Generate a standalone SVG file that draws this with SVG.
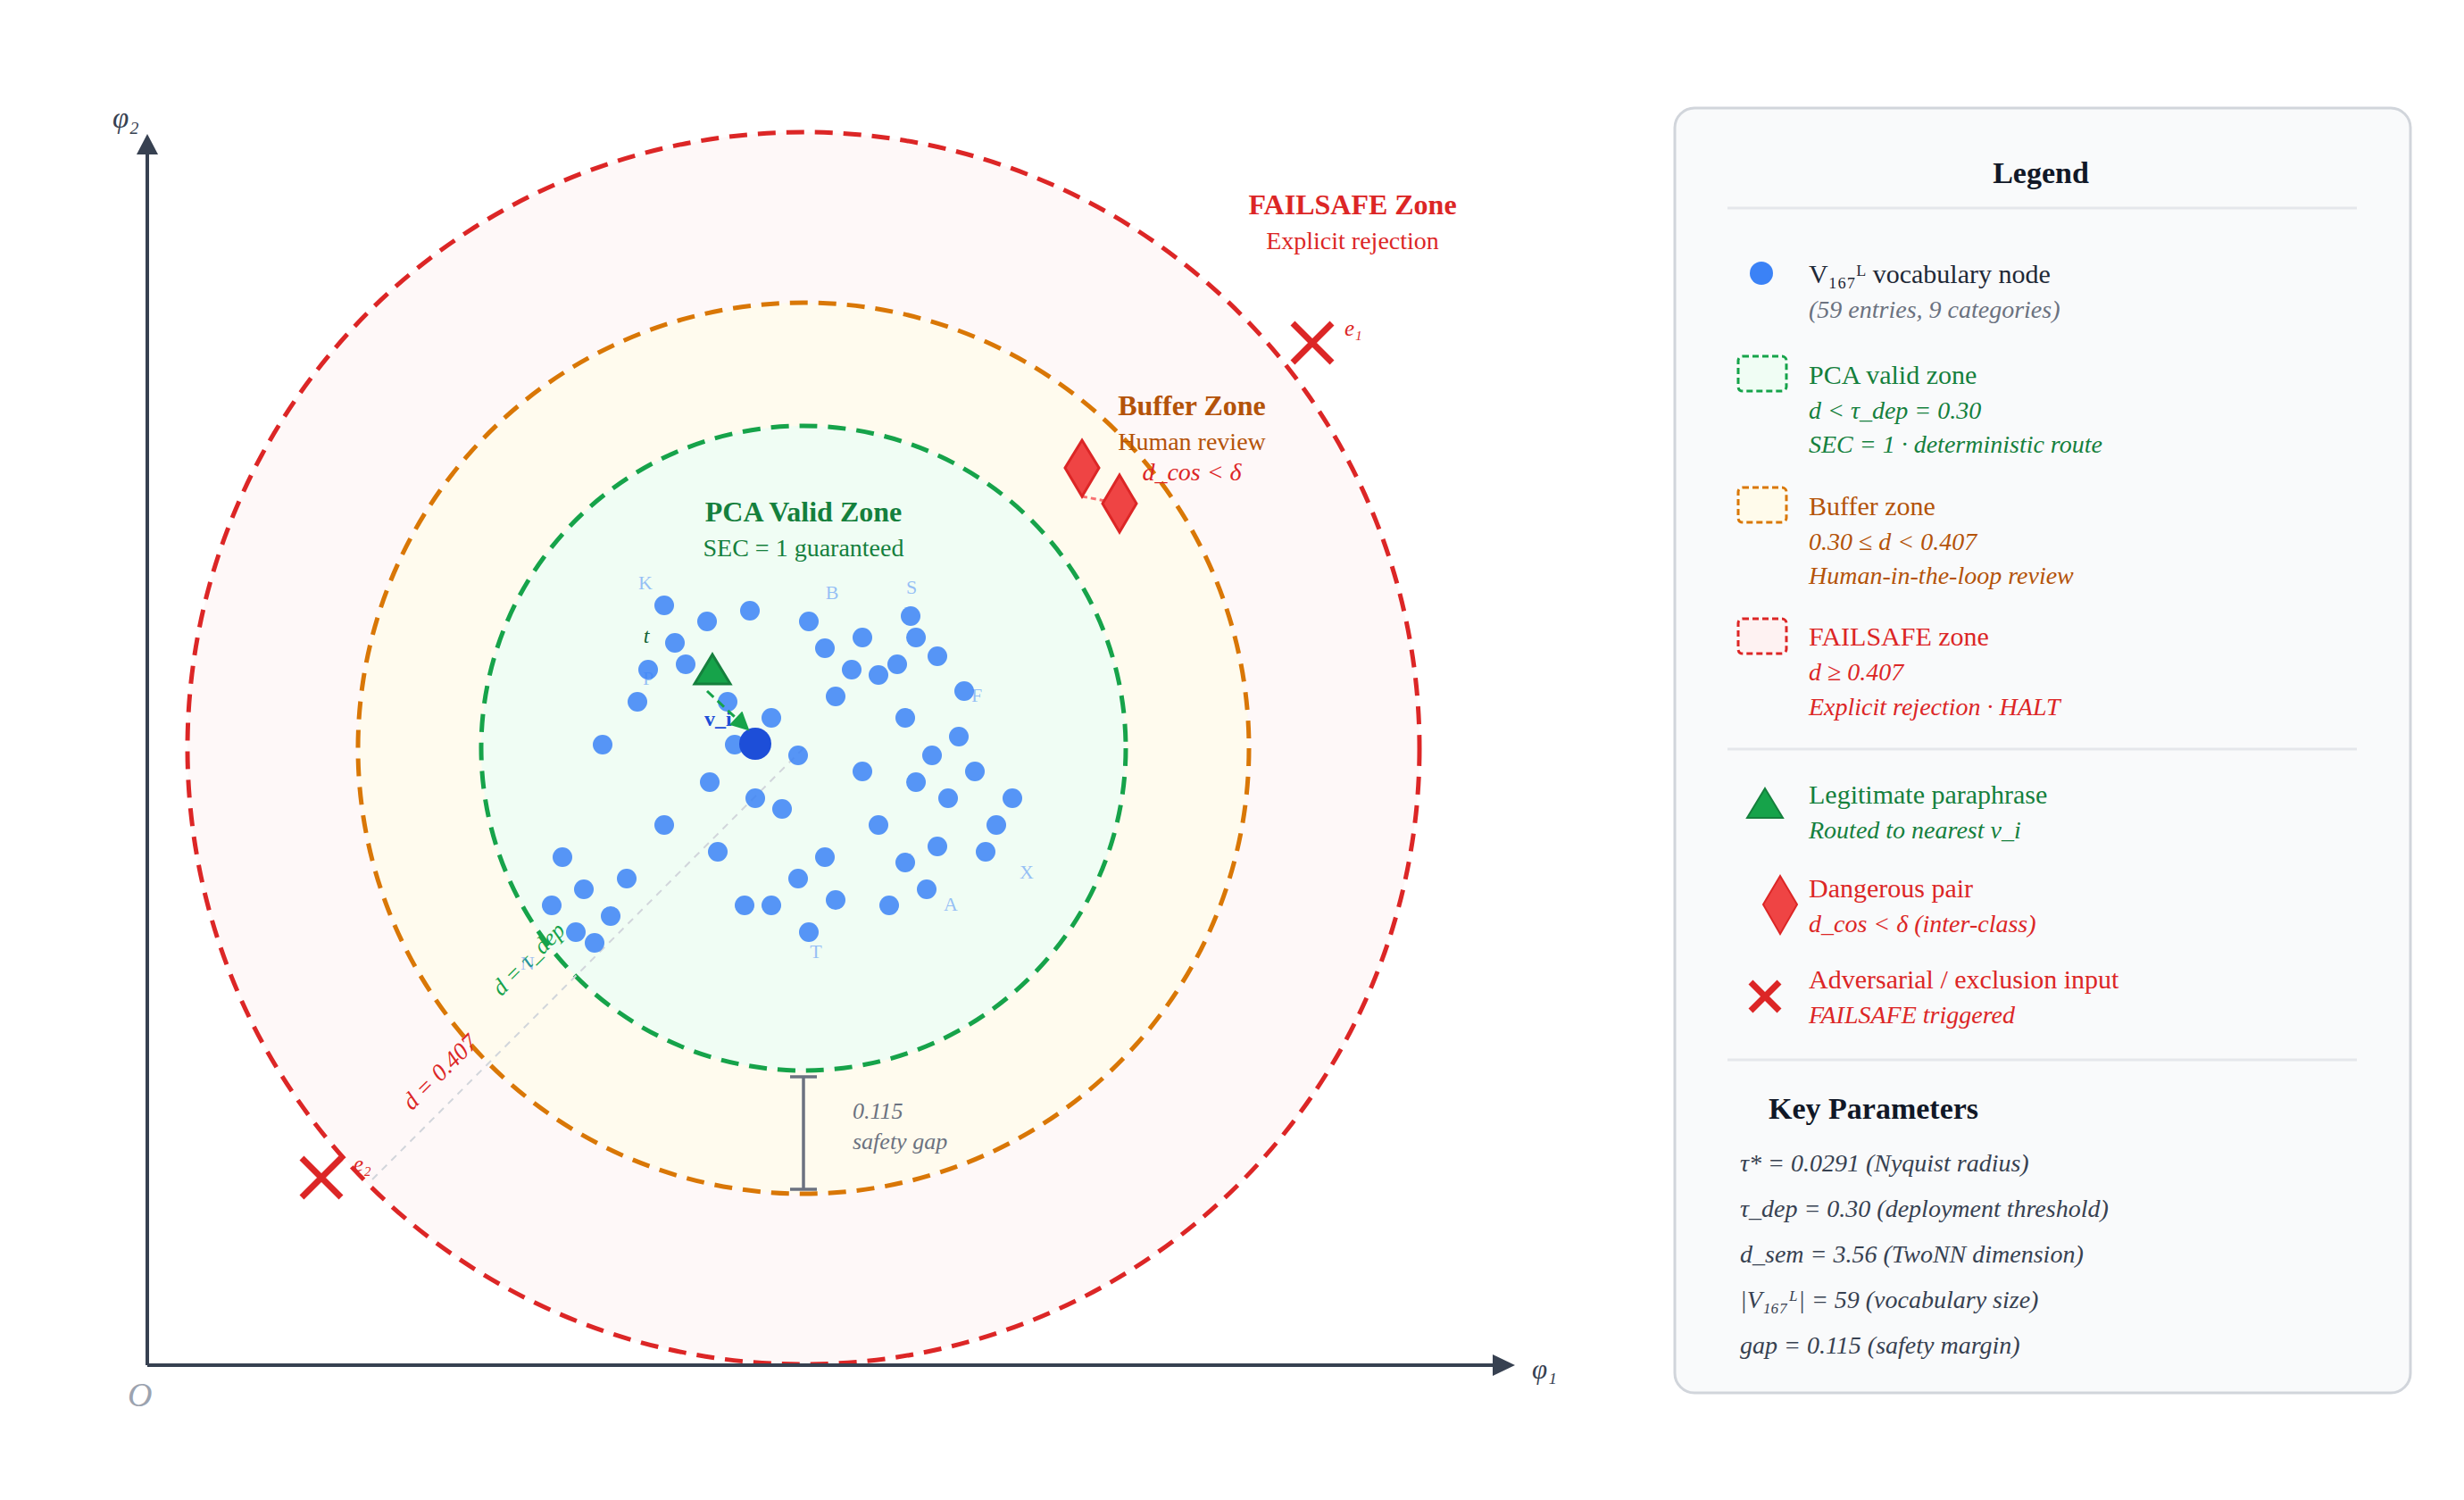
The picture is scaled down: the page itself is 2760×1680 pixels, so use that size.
<svg xmlns="http://www.w3.org/2000/svg" width="2760" height="1680" viewBox="0 0 2760 1680">
<defs>
<style>
text{font-family:"Liberation Serif","Times New Roman",serif}
.zone{stroke-width:5;stroke-dasharray:20 12}
.dot{fill:#3b82f6;fill-opacity:0.85}
.cat{fill:#3b82f6;fill-opacity:0.5;font-size:22px;text-anchor:middle}
.xm{stroke:#dc2626;stroke-width:7;fill:none}
.lbl{font-size:30px}
.sub{font-size:28px;font-style:italic}
.par{font-size:28px;font-style:italic;fill:#374151}
.ttl{font-size:34px;font-weight:bold;fill:#111827}
.g{fill:#15803d}.o{fill:#b45309}.r{fill:#dc2626}
.sep{stroke:#e5e7eb;stroke-width:3}
</style>
<marker id="ah" viewBox="0 0 10 10" refX="9" refY="5" markerWidth="9" markerHeight="7" markerUnits="strokeWidth" orient="auto">
<path d="M0,0 L10,5 L0,10 z" fill="#16a34a"/>
</marker>
</defs>
<rect width="2760" height="1680" fill="#ffffff"/>

<g id="zones">
<circle cx="900" cy="838" r="690" fill="#fef2f2" fill-opacity="0.55" stroke="#dc2626" class="zone"/>
<circle cx="900" cy="838" r="499" fill="#fffbeb" fill-opacity="0.8" stroke="#d97706" class="zone"/>
<circle cx="900" cy="838" r="361" fill="#f0fdf4" stroke="#16a34a" class="zone"/>
</g>

<g id="axes" stroke="#374151" stroke-width="4" fill="#374151">
<line x1="165" y1="1529" x2="165" y2="170"/>
<line x1="165" y1="1529" x2="1675" y2="1529"/>
<path d="M165,150 L177,173 L153,173 z" stroke="none"/>
<path d="M1697,1529 L1672,1517 L1672,1541 z" stroke="none"/>
</g>
<text x="126" y="143" font-size="33" font-style="italic" fill="#374151">φ₂</text>
<text x="1716" y="1544" font-size="31" font-style="italic" fill="#374151">φ₁</text>
<text x="143" y="1575" font-size="38" font-style="italic" fill="#9ca3af">O</text>

<g id="connectors">
<line x1="900" y1="838" x2="417" y2="1321" stroke="#d1d5db" stroke-width="2" stroke-dasharray="8 7"/>
<line x1="1212" y1="556" x2="1238" y2="561" stroke="#f87171" stroke-width="3" stroke-dasharray="6 4"/>
</g>

<g id="gap">
<line x1="900" y1="1206" x2="900" y2="1332" stroke="#6b7280" stroke-width="3.5"/>
<line x1="885" y1="1206" x2="915" y2="1206" stroke="#6b7280" stroke-width="3.5"/>
<line x1="885" y1="1332" x2="915" y2="1332" stroke="#6b7280" stroke-width="3.5"/>
<text x="955" y="1253" font-size="26" font-style="italic" fill="#6b7280">0.115</text>
<text x="955" y="1287" font-size="26" font-style="italic" fill="#6b7280">safety gap</text>
</g>

<text transform="translate(598,1080) rotate(-45)" text-anchor="middle" font-size="26" font-style="italic" fill="#16a34a">d = τ_dep</text>
<text transform="translate(499,1207) rotate(-45)" text-anchor="middle" font-size="27" font-style="italic" fill="#dc2626">d = 0.407</text>

<g id="zone-titles">
<text x="900" y="584" text-anchor="middle" font-size="32" font-weight="bold" class="g">PCA Valid Zone</text>
<text x="900" y="623" text-anchor="middle" font-size="28" class="g">SEC = 1 guaranteed</text>
<text x="1335" y="465" text-anchor="middle" font-size="32" font-weight="bold" class="o">Buffer Zone</text>
<text x="1335" y="504" text-anchor="middle" font-size="28" class="o">Human review</text>
<text x="1335" y="538" text-anchor="middle" font-size="28" font-style="italic" class="r">d_cos &lt; δ</text>
<text x="1515" y="240" text-anchor="middle" font-size="32" font-weight="bold" class="r">FAILSAFE Zone</text>
<text x="1515" y="279" text-anchor="middle" font-size="28" class="r">Explicit rejection</text>
</g>

<g id="category-labels">
<text class="cat" x="723" y="660">K</text>
<text class="cat" x="932" y="671">B</text>
<text class="cat" x="1021" y="665">S</text>
<text class="cat" x="726" y="767">P</text>
<text class="cat" x="1094" y="786">F</text>
<text class="cat" x="1150" y="984">X</text>
<text class="cat" x="1065" y="1020">A</text>
<text class="cat" x="914" y="1073">T</text>
<text class="cat" x="591" y="1086">N</text>
</g>

<g id="vocabulary-nodes">
<circle class="dot" cx="744" cy="678" r="11"/>
<circle class="dot" cx="792" cy="696" r="11"/>
<circle class="dot" cx="840" cy="684" r="11"/>
<circle class="dot" cx="756" cy="720" r="11"/>
<circle class="dot" cx="768" cy="744" r="11"/>
<circle class="dot" cx="726" cy="750" r="11"/>
<circle class="dot" cx="714" cy="786" r="11"/>
<circle class="dot" cx="675" cy="834" r="11"/>
<circle class="dot" cx="815" cy="786" r="11"/>
<circle class="dot" cx="864" cy="804" r="11"/>
<circle class="dot" cx="823" cy="834" r="11"/>
<circle class="dot" cx="894" cy="846" r="11"/>
<circle class="dot" cx="795" cy="876" r="11"/>
<circle class="dot" cx="846" cy="894" r="11"/>
<circle class="dot" cx="876" cy="906" r="11"/>
<circle class="dot" cx="744" cy="924" r="11"/>
<circle class="dot" cx="804" cy="954" r="11"/>
<circle class="dot" cx="630" cy="960" r="11"/>
<circle class="dot" cx="654" cy="996" r="11"/>
<circle class="dot" cx="702" cy="984" r="11"/>
<circle class="dot" cx="618" cy="1014" r="11"/>
<circle class="dot" cx="684" cy="1026" r="11"/>
<circle class="dot" cx="645" cy="1044" r="11"/>
<circle class="dot" cx="666" cy="1056" r="11"/>
<circle class="dot" cx="834" cy="1014" r="11"/>
<circle class="dot" cx="864" cy="1014" r="11"/>
<circle class="dot" cx="894" cy="984" r="11"/>
<circle class="dot" cx="924" cy="960" r="11"/>
<circle class="dot" cx="936" cy="1008" r="11"/>
<circle class="dot" cx="906" cy="1044" r="11"/>
<circle class="dot" cx="996" cy="1014" r="11"/>
<circle class="dot" cx="1014" cy="966" r="11"/>
<circle class="dot" cx="1050" cy="948" r="11"/>
<circle class="dot" cx="1038" cy="996" r="11"/>
<circle class="dot" cx="984" cy="924" r="11"/>
<circle class="dot" cx="1104" cy="954" r="11"/>
<circle class="dot" cx="1116" cy="924" r="11"/>
<circle class="dot" cx="1134" cy="894" r="11"/>
<circle class="dot" cx="1062" cy="894" r="11"/>
<circle class="dot" cx="1026" cy="876" r="11"/>
<circle class="dot" cx="1092" cy="864" r="11"/>
<circle class="dot" cx="1044" cy="846" r="11"/>
<circle class="dot" cx="966" cy="864" r="11"/>
<circle class="dot" cx="1074" cy="825" r="11"/>
<circle class="dot" cx="1014" cy="804" r="11"/>
<circle class="dot" cx="1080" cy="774" r="11"/>
<circle class="dot" cx="936" cy="780" r="11"/>
<circle class="dot" cx="906" cy="696" r="11"/>
<circle class="dot" cx="924" cy="726" r="11"/>
<circle class="dot" cx="966" cy="714" r="11"/>
<circle class="dot" cx="954" cy="750" r="11"/>
<circle class="dot" cx="984" cy="756" r="11"/>
<circle class="dot" cx="1005" cy="744" r="11"/>
<circle class="dot" cx="1020" cy="690" r="11"/>
<circle class="dot" cx="1026" cy="714" r="11"/>
<circle class="dot" cx="1050" cy="735" r="11"/>
</g>

<g id="nearest-node">
<text x="789" y="813" font-size="24" font-weight="bold" fill="#1d4ed8">v_i</text>
<circle cx="846" cy="833" r="18" fill="#1d4ed8"/>
</g>

<g id="paraphrase">
<path d="M798,733 L818,766 L778,766 z" fill="#16a34a" stroke="#15803d" stroke-width="3" stroke-linejoin="miter"/>
<text x="724" y="720" font-size="24" font-style="italic" fill="#166534" text-anchor="middle">t</text>
</g>

<g id="routing-connector">
<line x1="792" y1="774" x2="838" y2="817" stroke="#16a34a" stroke-width="3" stroke-dasharray="10 6" marker-end="url(#ah)"/>
</g>

<g id="dangerous-pair" fill="#ef4444" stroke="#dc2626" stroke-width="3">
<path d="M1212,493 L1231,524 L1212,556 L1193,524 z"/>
<path d="M1254,532 L1273,564 L1254,596 L1235,564 z"/>
</g>

<g id="adversarial-e1">
<path class="xm" d="M1448,362 L1492,406 M1492,362 L1448,406"/>
<text x="1506" y="376" font-size="25" font-style="italic" fill="#dc2626">e₁</text>
</g>
<g id="adversarial-e2">
<path class="xm" d="M338,1297 L382,1341 M382,1297 L338,1341"/>
<text x="396" y="1312" font-size="25" font-style="italic" fill="#dc2626">e₂</text>
</g>

<g id="legend">
<rect x="1876" y="121" width="824" height="1439" rx="22" fill="#f9fafb" stroke="#d1d5db" stroke-width="3"/>
<text class="ttl" x="2286" y="205" text-anchor="middle">Legend</text>
<line class="sep" x1="1935" y1="233" x2="2640" y2="233"/>

<circle cx="1973" cy="306" r="13" fill="#3b82f6"/>
<text class="lbl" x="2026" y="317" fill="#1f2937">V₁₆₇ᴸ vocabulary node</text>
<text class="sub" x="2026" y="356" fill="#6b7280">(59 entries, 9 categories)</text>

<rect x="1947" y="399" width="54" height="39" rx="5" fill="#f0fdf4" stroke="#16a34a" stroke-width="3" stroke-dasharray="7 4"/>
<text class="lbl g" x="2026" y="430">PCA valid zone</text>
<text class="sub g" x="2026" y="469">d &lt; τ_dep = 0.30</text>
<text class="sub g" x="2026" y="507">SEC = 1 · deterministic route</text>

<rect x="1947" y="546" width="54" height="39" rx="5" fill="#fffbeb" stroke="#d97706" stroke-width="3" stroke-dasharray="7 4"/>
<text class="lbl o" x="2026" y="577">Buffer zone</text>
<text class="sub o" x="2026" y="616">0.30 ≤ d &lt; 0.407</text>
<text class="sub o" x="2026" y="654">Human-in-the-loop review</text>

<rect x="1947" y="693" width="54" height="39" rx="5" fill="#fef2f2" stroke="#dc2626" stroke-width="3" stroke-dasharray="7 4"/>
<text class="lbl r" x="2026" y="723">FAILSAFE zone</text>
<text class="sub r" x="2026" y="762">d ≥ 0.407</text>
<text class="sub r" x="2026" y="801">Explicit rejection · HALT</text>

<line class="sep" x1="1935" y1="839" x2="2640" y2="839"/>

<path d="M1977,883 L1997,916 L1957,916 z" fill="#16a34a" stroke="#15803d" stroke-width="2"/>
<text class="lbl g" x="2026" y="900">Legitimate paraphrase</text>
<text class="sub g" x="2026" y="939">Routed to nearest v_i</text>

<path d="M1994,981 L2013,1013 L1994,1046 L1975,1013 z" fill="#ef4444" stroke="#dc2626" stroke-width="2"/>
<text class="lbl r" x="2026" y="1005">Dangerous pair</text>
<text class="sub r" x="2026" y="1044">d_cos &lt; δ (inter-class)</text>

<path class="xm" d="M1961,1100 L1993,1132 M1993,1100 L1961,1132"/>
<text class="lbl r" x="2026" y="1107">Adversarial / exclusion input</text>
<text class="sub r" x="2026" y="1146">FAILSAFE triggered</text>

<line class="sep" x1="1935" y1="1187" x2="2640" y2="1187"/>

<text class="ttl" x="1981" y="1253">Key Parameters</text>
<text class="par" x="1949" y="1312">τ* = 0.0291 (Nyquist radius)</text>
<text class="par" x="1949" y="1363">τ_dep = 0.30 (deployment threshold)</text>
<text class="par" x="1949" y="1414">d_sem = 3.56 (TwoNN dimension)</text>
<text class="par" x="1949" y="1465">|V₁₆₇ᴸ| = 59 (vocabulary size)</text>
<text class="par" x="1949" y="1516">gap = 0.115 (safety margin)</text>
</g>
</svg>
